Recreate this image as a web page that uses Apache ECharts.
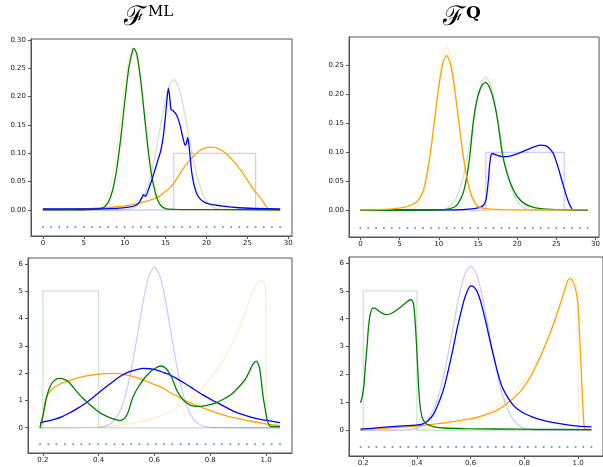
<!DOCTYPE html>
<html>
<head>
<meta charset="utf-8">
<script src="https://cdn.jsdelivr.net/npm/echarts@6/dist/echarts.min.js"></script>
<style>
html,body{margin:0;padding:0;background:#fff;}
#v-chart{width:603px;height:467px;}
</style>
</head>
<body>
<div id="v-chart"></div>
<script>
// tick labels
const topXTicks = [0, 5, 10, 15, 20, 25, 30];
const tlYTicks = [0, 0.05, 0.10, 0.15, 0.20, 0.25, 0.30];
const trYTicks = [0, 0.05, 0.10, 0.15, 0.20, 0.25];
const botXTicks = [0.2, 0.4, 0.6, 0.8, 1.0];
const botYTicks = [0, 1, 2, 3, 4, 5, 6];

// rug points under the curves
const topDotX = [0,1,2,3,4,5,6,7,8,9,10,11,12,13,14,15,16,17,18,19,20,21,22,23,24,25,26,27,28,29];
const topDotY = -0.03;
const botDotX = [0.190,0.220,0.249,0.279,0.309,0.338,0.368,0.398,0.427,0.457,0.487,0.516,0.546,0.576,0.605,
                 0.635,0.664,0.694,0.724,0.753,0.783,0.813,0.842,0.872,0.902,0.931,0.961,0.991,1.020,1.050];
const botDotY = -0.6;

// top row, faint target densities
const topTargetOrange = [[0,0],[4,0],[5,0.00003],[6,0.0005],[6.5,0.0017],[7,0.0051],[7.5,0.013],[8,0.0294],[8.5,0.0588],
    [9,0.1035],[9.5,0.161],[10,0.220],[10.5,0.266],[11,0.283],[11.5,0.266],[12,0.220],[12.5,0.161],[13,0.1035],
    [13.5,0.0588],[14,0.0294],[14.5,0.013],[15,0.0051],[15.5,0.0017],[16,0.0005],[17,0.00004],[19,0],[29,0]];
const topTargetGreen = [[0,0],[8,0.00002],[9,0.00007],[10,0.0006],[10.5,0.0015],[11,0.0036],[11.5,0.008],[12,0.0161],
    [12.5,0.030],[13,0.0516],[13.5,0.0815],[14,0.118],[14.5,0.158],[15,0.1948],[15.5,0.2206],[16,0.23],[16.5,0.2206],
    [17,0.1948],[17.5,0.158],[18,0.118],[18.5,0.0815],[19,0.0516],[19.5,0.030],[20,0.0161],[20.5,0.008],[21,0.0036],
    [21.5,0.0015],[22,0.0006],[23,0.00007],[29,0]];
const topTargetBlue = [[0,0],[16,0],[16,0.1],[26,0.1],[26,0],[29,0]];

// top left (ML)
const tlGreen = [[0,0.0005],[5,0.0005],[6,0.001],[6.5,0.0015],[7,0.0025],[7.5,0.0055],[8,0.0139],[8.5,0.0335],[9,0.0697],
    [9.5,0.124],[10,0.190],[10.5,0.250],[11,0.283],[11.15,0.285],[11.5,0.274],[12,0.224],[12.5,0.155],[13,0.090],
    [13.5,0.045],[14,0.0187],[14.5,0.0066],[15,0.0025],[16,0.0012],[18,0.0008],[29,0.0005]];
const tlOrange = [[0,0.001],[2,0.0013],[4,0.002],[6,0.003],[8,0.0048],[9.8,0.007],[11,0.0095],[11.8,0.012],[12.8,0.016],
    [13.9,0.022],[14.5,0.027],[15.1,0.034],[15.5,0.039],[15.9,0.045],[16.5,0.058],[17.1,0.072],[17.9,0.087],[18.5,0.096],
    [19.1,0.104],[19.8,0.109],[20.6,0.111],[21.3,0.109],[22,0.104],[22.8,0.094],[23.6,0.081],[24.4,0.066],[25.2,0.048],
    [25.8,0.035],[26.4,0.025],[26.9,0.015],[27.3,0.006],[27.5,0.002],[27.7,0],[29,0]];
const tlBlue = [[0,0.002],[5,0.002],[9,0.003],[10.5,0.005],[11.3,0.008],[11.8,0.014],[12.1,0.022],[12.3,0.027],[12.55,0.024],
    [12.8,0.032],[13.2,0.048],[13.6,0.066],[14.0,0.085],[14.4,0.104],[14.7,0.128],[15.0,0.168],[15.2,0.200],[15.35,0.215],
    [15.5,0.2],[15.65,0.178],[15.9,0.175],[16.2,0.171],[16.5,0.162],[16.8,0.148],[17.1,0.128],[17.4,0.114],[17.55,0.118],
    [17.7,0.128],[17.85,0.115],[18.0,0.094],[18.2,0.066],[18.5,0.043],[18.9,0.026],[19.5,0.016],[20.3,0.011],[22,0.007],
    [24,0.004],[26,0.003],[29,0.002]];

// top right (Q)
const trOrange = [[0,0.001],[3,0.002],[5,0.004],[6,0.007],[7,0.013],[7.5,0.02],[8,0.033],[8.5,0.063],[9,0.106],[9.5,0.159],
    [10,0.212],[10.5,0.252],[11,0.267],[11.5,0.252],[12,0.212],[12.5,0.159],[13,0.106],[13.5,0.063],[14,0.033],[14.5,0.016],
    [15,0.007],[16,0.003],[18,0.0015],[22,0.001],[29,0.001]];
const trGreen = [[0,0.0003],[8,0.0005],[10,0.001],[11,0.002],[12,0.006],[12.5,0.0127],[13,0.026],[13.33,0.041],[13.7,0.068],
    [14,0.098],[14.4,0.152],[14.8,0.186],[15.2,0.206],[15.6,0.217],[16,0.220],[16.4,0.214],[16.8,0.200],[17.2,0.178],
    [17.5,0.156],[17.8,0.127],[18.1,0.098],[18.5,0.074],[19,0.052],[19.5,0.036],[20,0.024],[20.8,0.013],[21.7,0.007],
    [23,0.003],[25,0.0015],[29,0.0005]];
const trBlue = [[0,0.0005],[10,0.001],[13,0.0015],[14.5,0.003],[15.4,0.006],[15.8,0.011],[16.05,0.02],[16.2,0.035],
    [16.35,0.055],[16.5,0.08],[16.65,0.094],[16.85,0.098],[17.3,0.0955],[18.1,0.0925],[19.2,0.094],[20.4,0.0995],
    [21.7,0.107],[22.9,0.1125],[23.6,0.1115],[24.1,0.107],[24.6,0.0985],[25.2,0.0755],[25.8,0.047],[26.4,0.02],
    [26.8,0.007],[27.1,0.001],[29,0]];

// bottom row, faint target densities
const botTargetGreen = [[0.19,0],[0.2,0],[0.2,5],[0.4,5],[0.4,0],[1.05,0]];
const botTargetOrange = [[0.19,0],[0.3,0.005],[0.4,0.03],[0.5,0.12],[0.55,0.22],[0.6,0.36],[0.633,0.48],[0.67,0.65],
    [0.72,1.0],[0.756,1.25],[0.8,1.8],[0.83,2.2],[0.86,2.7],[0.89,3.3],[0.91,3.8],[0.93,4.35],[0.945,4.8],[0.96,5.15],
    [0.972,5.33],[0.984,5.41],[0.992,5.33],[0.997,5.05],[0.9995,4.5],[1.0005,0],[1.05,0]];
const blTargetBlue = [[0.19,0],[0.36,0.001],[0.40,0.015],[0.42,0.048],[0.44,0.13],[0.46,0.32],[0.48,0.69],[0.50,1.33],
    [0.52,2.28],[0.54,3.45],[0.56,4.64],[0.58,5.55],[0.60,5.89],[0.62,5.55],[0.64,4.64],[0.66,3.45],[0.68,2.28],
    [0.70,1.33],[0.72,0.69],[0.74,0.32],[0.76,0.13],[0.78,0.048],[0.80,0.015],[0.84,0.001],[1.05,0]];
const brTargetBlue = [[0.19,0],[0.3,0],[0.35,0.0064],[0.38,0.030],[0.40,0.075],[0.42,0.172],[0.44,0.36],[0.46,0.695],
    [0.48,1.22],[0.50,1.98],[0.52,2.93],[0.54,3.98],[0.56,4.95],[0.58,5.64],[0.60,5.89],[0.62,5.64],[0.64,4.95],
    [0.66,3.98],[0.68,2.93],[0.70,1.98],[0.72,1.22],[0.74,0.695],[0.76,0.36],[0.78,0.172],[0.80,0.075],[0.82,0.030],
    [0.85,0.0064],[0.9,0],[1.05,0]];

// bottom left (ML)
const blGreen = [[0.19,0],[0.196,0.25],[0.202,0.52],[0.208,0.85],[0.214,1.13],[0.222,1.4],[0.232,1.62],[0.245,1.76],
    [0.26,1.81],[0.275,1.78],[0.292,1.68],[0.31,1.47],[0.328,1.25],[0.346,1.06],[0.364,0.89],[0.382,0.73],[0.4,0.58],
    [0.42,0.46],[0.447,0.34],[0.465,0.29],[0.477,0.27],[0.49,0.32],[0.501,0.46],[0.51,0.7],[0.519,1.01],[0.53,1.27],
    [0.543,1.5],[0.558,1.73],[0.573,1.92],[0.588,2.07],[0.603,2.18],[0.623,2.26],[0.635,2.22],[0.644,2.14],[0.652,2.02],
    [0.662,1.84],[0.672,1.58],[0.68,1.37],[0.694,1.14],[0.71,0.95],[0.73,0.82],[0.75,0.78],[0.77,0.79],[0.8,0.85],
    [0.825,0.93],[0.85,1.06],[0.87,1.18],[0.885,1.31],[0.905,1.52],[0.927,1.8],[0.942,2.1],[0.951,2.29],[0.958,2.39],
    [0.965,2.44],[0.971,2.36],[0.977,2.17],[0.982,1.8],[0.986,1.44],[0.99,1.1],[0.995,0.8],[1.0,0.5],[1.004,0.3],
    [1.01,0.12],[1.014,0.06],[1.03,0.04],[1.05,0.04]];
const blOrange = [[0.19,0],[0.196,0.25],[0.202,0.52],[0.208,0.95],[0.214,1.12],[0.22,1.25],[0.232,1.4],[0.244,1.5],
    [0.265,1.62],[0.292,1.72],[0.32,1.81],[0.352,1.89],[0.39,1.95],[0.423,1.98],[0.46,1.99],[0.49,1.95],[0.507,1.92],
    [0.54,1.83],[0.567,1.72],[0.6,1.58],[0.627,1.47],[0.655,1.3],[0.686,1.13],[0.716,0.97],[0.746,0.84],[0.776,0.72],
    [0.806,0.61],[0.835,0.51],[0.865,0.42],[0.895,0.35],[0.925,0.28],[0.955,0.22],[0.985,0.17],[1.02,0.11],[1.05,0.08]];
const blBlue = [[0.19,0.18],[0.215,0.24],[0.244,0.32],[0.27,0.41],[0.292,0.52],[0.32,0.68],[0.352,0.89],[0.38,1.11],
    [0.411,1.37],[0.44,1.6],[0.471,1.84],[0.495,1.98],[0.519,2.08],[0.54,2.14],[0.561,2.17],[0.582,2.16],[0.603,2.13],
    [0.625,2.05],[0.65,1.96],[0.68,1.8],[0.71,1.62],[0.74,1.42],[0.77,1.22],[0.8,1.05],[0.83,0.89],[0.86,0.73],
    [0.889,0.58],[0.92,0.47],[0.949,0.38],[0.98,0.31],[1.009,0.26],[1.05,0.19]];

// bottom right (Q)
const brGreen = [[0.19,0.985],[0.196,1.2],[0.2026,1.6],[0.208,2.3],[0.215,3.1],[0.22,3.75],[0.226,4.15],[0.236,4.39],
    [0.245,4.37],[0.255,4.3],[0.27,4.2],[0.285,4.15],[0.3,4.17],[0.32,4.28],[0.34,4.42],[0.36,4.58],[0.375,4.68],
    [0.382,4.66],[0.388,4.5],[0.392,4.1],[0.396,3.5],[0.4,2.8],[0.404,2.0],[0.408,1.3],[0.413,0.77],[0.42,0.45],
    [0.43,0.28],[0.444,0.18],[0.47,0.11],[0.5,0.08],[0.58,0.06],[0.7,0.045],[0.85,0.033],[1.05,0.025]];
const brOrange = [[0.19,0.037],[0.25,0.06],[0.333,0.1],[0.4,0.15],[0.456,0.21],[0.5,0.26],[0.542,0.32],[0.6,0.42],
    [0.633,0.49],[0.682,0.64],[0.716,0.82],[0.756,1.12],[0.79,1.45],[0.831,2.05],[0.86,2.65],[0.886,3.25],[0.91,3.85],
    [0.93,4.42],[0.945,4.88],[0.957,5.25],[0.967,5.44],[0.976,5.42],[0.985,5.25],[0.992,5.0],[1.0,4.5],[1.008,3.0],
    [1.015,1.5],[1.02,0.5],[1.023,0.12],[1.027,0.04],[1.05,0.03]];
const brBlue = [[0.19,0.037],[0.27,0.1],[0.345,0.155],[0.394,0.18],[0.42,0.22],[0.44,0.33],[0.462,0.58],[0.487,1.13],
    [0.503,1.6],[0.518,2.2],[0.534,2.9],[0.549,3.62],[0.562,4.15],[0.575,4.65],[0.588,5.0],[0.6,5.18],[0.61,5.16],
    [0.623,5.0],[0.633,4.75],[0.642,4.45],[0.655,3.95],[0.67,3.3],[0.691,2.44],[0.707,1.85],[0.72,1.5],[0.74,1.15],
    [0.757,0.92],[0.777,0.74],[0.8,0.6],[0.827,0.49],[0.86,0.38],[0.889,0.31],[0.943,0.22],[1.0,0.15],[1.05,0.12]];

const GREEN = '#008000', ORANGE = '#ffa500', BLUE = '#0000ff', DOT = '#1f77b4';

var chart = echarts.init(document.getElementById('v-chart'));

function xAxisFor(gi, min, max, ticks, digits){
    return {
        type: 'value', gridIndex: gi, min: min, max: max,
        axisLine: {show: true, onZero: false, lineStyle: {color: '#555', width: 1}},
        axisTick: {show: true, length: 3, customValues: ticks, lineStyle: {color: '#555'}},
        axisLabel: {customValues: ticks, margin: 4, fontSize: 7, color: '#222', fontFamily: 'DejaVu Sans',
            formatter: v => v.toFixed(digits)},
        splitLine: {show: false}
    };
}
function yAxisFor(gi, min, max, ticks, digits){
    return {
        type: 'value', gridIndex: gi, min: min, max: max,
        axisLine: {show: true, onZero: false, lineStyle: {color: '#555', width: 1}},
        axisTick: {show: true, length: 3, customValues: ticks, lineStyle: {color: '#555'}},
        axisLabel: {customValues: ticks, margin: 5, fontSize: 7, color: '#222', fontFamily: 'DejaVu Sans',
            formatter: v => v.toFixed(digits)},
        splitLine: {show: false}
    };
}
function curve(gi, data, color, faint, smooth){
    return {
        type: 'line', xAxisIndex: gi, yAxisIndex: gi, data: data,
        symbol: 'none', showSymbol: false, smooth: smooth, silent: true,
        lineStyle: {color: color, width: 1.3, opacity: faint ? 0.2 : 1},
        z: faint ? 1 : 2
    };
}
function rug(gi, xs, y){
    return {
        type: 'scatter', xAxisIndex: gi, yAxisIndex: gi, silent: true,
        data: xs.map(x => [x, y]), symbolSize: 2, itemStyle: {color: DOT, opacity: 0.75}, z: 3
    };
}

var option = {
    animation: false,
    backgroundColor: '#fff',
    grid: [
        {left: 31, top: 39, width: 261, height: 197, show: true, borderColor: '#555', borderWidth: 1},
        {left: 349, top: 37, width: 255, height: 200, show: true, borderColor: '#555', borderWidth: 1},
        {left: 28, top: 258, width: 264, height: 195, show: true, borderColor: '#555', borderWidth: 1},
        {left: 349, top: 257, width: 255, height: 200, show: true, borderColor: '#555', borderWidth: 1}
    ],
    xAxis: [
        xAxisFor(0, -1.45, 30.45, topXTicks, 0),
        xAxisFor(1, -1.45, 30.45, topXTicks, 0),
        xAxisFor(2, 0.147, 1.093, botXTicks, 1),
        xAxisFor(3, 0.147, 1.093, botXTicks, 1)
    ],
    yAxis: [
        yAxisFor(0, -0.0458, 0.3015, tlYTicks, 2),
        yAxisFor(1, -0.0457, 0.2985, trYTicks, 2),
        yAxisFor(2, -0.9245, 6.2145, botYTicks, 0),
        yAxisFor(3, -0.9245, 6.2145, botYTicks, 0)
    ],
    graphic: [
        {type: 'text', x: 124, y: 18, style: {text: 'ℱ', font: '27px "DejaVu Serif"', fill: '#000', verticalAlign: 'middle'}},
        {type: 'text', x: 148, y: 12.5, style: {text: 'ML', font: '15px "DejaVu Serif"', fill: '#000', verticalAlign: 'middle'}},
        {type: 'text', x: 443, y: 18, style: {text: 'ℱ', font: '27px "DejaVu Serif"', fill: '#000', verticalAlign: 'middle'}},
        {type: 'text', x: 466, y: 13.5, style: {text: 'Q', font: 'bold 17px "DejaVu Serif"', fill: '#000', verticalAlign: 'middle'}}
    ],
    series: [
        curve(0, topTargetOrange, ORANGE, true, 0.2),
        curve(0, topTargetGreen, GREEN, true, 0.2),
        curve(0, topTargetBlue, BLUE, true, false),
        curve(0, tlOrange, ORANGE, false, 0.2),
        curve(0, tlGreen, GREEN, false, 0.2),
        curve(0, tlBlue, BLUE, false, 0.2),
        rug(0, topDotX, topDotY),

        curve(1, topTargetOrange, ORANGE, true, 0.2),
        curve(1, topTargetGreen, GREEN, true, 0.2),
        curve(1, topTargetBlue, BLUE, true, false),
        curve(1, trBlue, BLUE, false, 0.2),
        curve(1, trGreen, GREEN, false, 0.2),
        curve(1, trOrange, ORANGE, false, 0.2),
        rug(1, topDotX, topDotY),

        curve(2, botTargetGreen, GREEN, true, false),
        curve(2, blTargetBlue, BLUE, true, 0.2),
        curve(2, botTargetOrange, ORANGE, true, 0.15),
        curve(2, blOrange, ORANGE, false, 0.2),
        curve(2, blBlue, BLUE, false, 0.2),
        curve(2, blGreen, GREEN, false, 0.2),
        rug(2, botDotX, botDotY),

        curve(3, botTargetGreen, GREEN, true, false),
        curve(3, brTargetBlue, BLUE, true, 0.2),
        curve(3, botTargetOrange, ORANGE, true, 0.15),
        curve(3, brOrange, ORANGE, false, 0.2),
        curve(3, brBlue, BLUE, false, 0.2),
        curve(3, brGreen, GREEN, false, 0.2),
        rug(3, botDotX, botDotY)
    ]
};

chart.setOption(option);
</script>
</body>
</html>
